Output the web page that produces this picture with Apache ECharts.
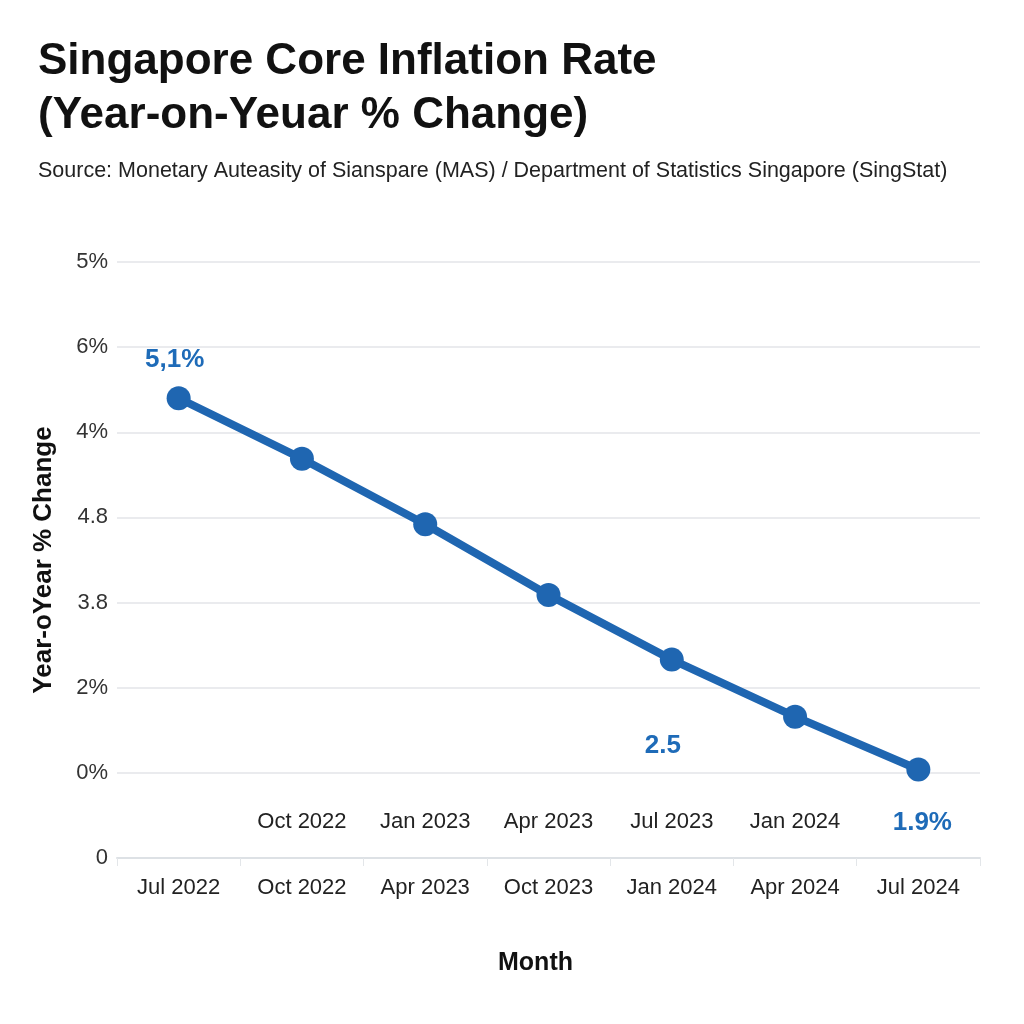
<!DOCTYPE html>
<html style="height: 100%">
  <head>
    <meta charset="utf-8" />
  </head>
  <body style="height: 100%; margin: 0; background: #fff">
    <div id="container" style="height: 100%"></div>

    <script
      type="text/javascript"
      src="https://cdn.jsdelivr.net/npm/echarts@6/dist/echarts.min.js"
    ></script>

    <script type="text/javascript">
      // bottom row of month labels (one per point)
      var months = ["Jul 2022", "Oct 2022", "Apr 2023", "Oct 2023", "Jan 2024", "Apr 2024", "Jul 2024"];
      // upper row of month labels, printed inside the plot
      var innerMonths = ["", "Oct 2022", "Jan 2023", "Apr 2023", "Jul 2023", "Jan 2024", ""];
      // y tick labels as printed, bottom to top
      var yTicks = ["0", "0%", "2%", "3.8", "4.8", "4%", "6%", "5%"];
      // point heights read against the gridlines (gridline steps)
      var values = [5.4, 4.69, 3.92, 3.09, 2.33, 1.66, 1.04];
      // printed value labels (empty = no label)
      var pointLabels = ["5,1%", "", "", "", "2.5", "", "1.9%"];

      var dom = document.getElementById("container");
      var myChart = echarts.init(dom);
      var option;

      var FONT = "Liberation Sans";
      var BLUE = "#1f66b1";

      var labelPlace = {
        0: { position: "top", offset: [-4, -8] },
        4: { position: "bottom", offset: [-9, 56] },
        6: { position: "bottom", offset: [4, 23] },
      };

      var seriesData = values.map(function (v, i) {
        var item = { value: v };
        if (pointLabels[i]) {
          item.label = {
            show: true,
            formatter: pointLabels[i],
            position: labelPlace[i].position,
            offset: labelPlace[i].offset,
          };
        }
        return item;
      });

      option = {
        backgroundColor: "#fff",
        textStyle: { fontFamily: FONT },
        title: [
          {
            text: "Singapore Core Inflation Rate\n(Year-on-Yeuar % Change)",
            left: 33,
            top: 30,
            textStyle: {
              fontFamily: FONT,
              fontSize: 44,
              fontWeight: "bold",
              lineHeight: 54,
              color: "#111",
            },
          },
          {
            text: "Source: Monetary Auteasity of Sianspare (MAS) / Department of Statistics Singapore (SingStat)",
            left: 33,
            top: 155,
            textStyle: {
              fontFamily: FONT,
              fontSize: 21.5,
              fontWeight: "normal",
              color: "#222",
            },
          },
        ],
        grid: {
          left: 117,
          right: 44,
          top: 262,
          bottom: 166,
        },
        xAxis: [
          {
            type: "category",
            data: months,
            position: "bottom",
            name: "Month",
            nameLocation: "middle",
            nameGap: 93,
            nameTextStyle: {
              fontFamily: FONT,
              fontSize: 25,
              fontWeight: "bold",
              color: "#111",
              padding: [0, 26, 0, 0],
            },
            axisLine: { lineStyle: { color: "#dde1e5", width: 2 } },
            axisTick: { show: true, length: 8, lineStyle: { color: "#e3e6e9" } },
            axisLabel: {
              margin: 19,
              fontSize: 22,
              color: "#222",
              fontFamily: FONT,
            },
          },
          {
            type: "category",
            data: innerMonths,
            position: "bottom",
            offset: -60,
            axisLine: { show: false },
            axisTick: { show: false },
            axisLabel: {
              margin: 13,
              fontSize: 22,
              color: "#222",
              fontFamily: FONT,
            },
          },
        ],
        yAxis: {
          type: "value",
          min: 0,
          max: 7,
          interval: 1,
          name: "Year-oYear % Change",
          nameLocation: "middle",
          nameGap: 60,
          nameTextStyle: {
            fontFamily: FONT,
            fontSize: 26,
            fontWeight: "bold",
            color: "#111",
          },
          axisLine: { show: false },
          axisTick: { show: false },
          axisLabel: {
            margin: 9,
            fontSize: 22,
            color: "#333",
            fontFamily: FONT,
            formatter: function (v) {
              return yTicks[Math.round(v)];
            },
          },
          splitLine: {
            lineStyle: { color: "#e3e5e8", width: 1.5 },
          },
        },
        series: [
          {
            type: "line",
            data: seriesData,
            symbol: "circle",
            symbolSize: 24,
            itemStyle: { color: BLUE },
            lineStyle: { color: BLUE, width: 8 },
            label: {
              show: false,
              fontFamily: FONT,
              fontSize: 26,
              fontWeight: "bold",
              color: "#1e6bb8",
            },
            animation: false,
          },
        ],
      };

      if (option && typeof option === "object") {
        myChart.setOption(option);
      }
    </script>
  </body>
</html>
